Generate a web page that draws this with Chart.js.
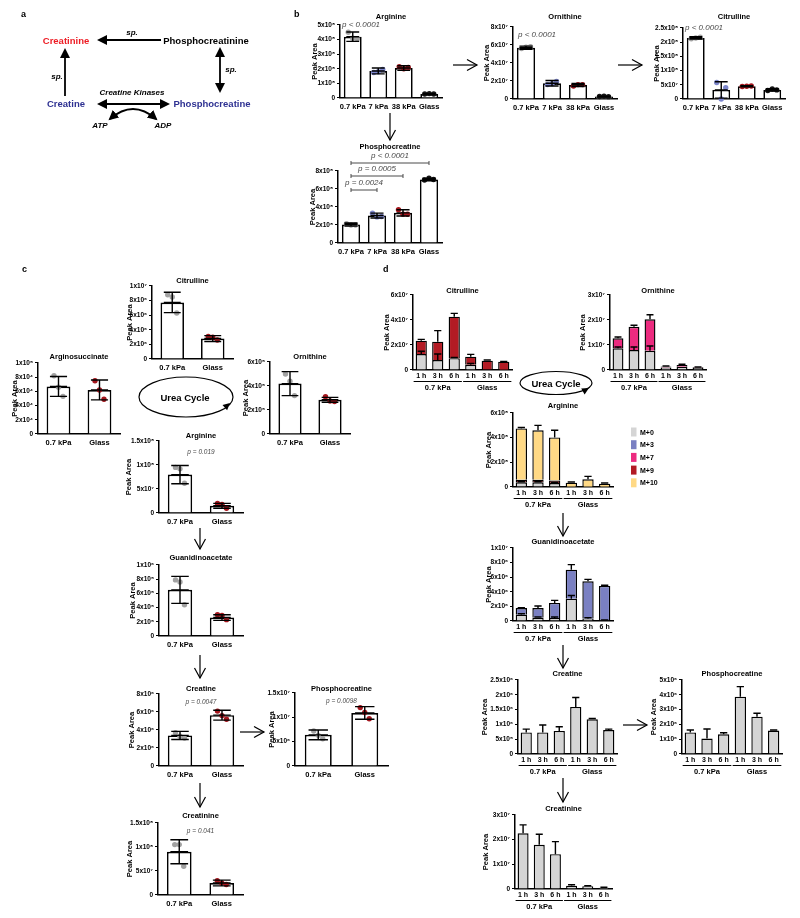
<!DOCTYPE html>
<html>
<head>
  <meta charset="UTF-8">
  <title>Arginine / creatine metabolism</title>
  <style>
    body { margin: 0; background: #fff; font-family: 'Liberation Sans', Arial, sans-serif; }
    #page { position: relative; width: 800px; height: 918px; overflow: hidden; background: #fff; }
    #page canvas { position: absolute; }
    #overlay { position: absolute; left: 0; top: 0; z-index: 2; pointer-events: none; }
  </style>
</head>
<body>
<div id="page">
  <svg id="overlay" width="800" height="918" viewBox="0 0 800 918">
    <defs>
      <marker id="open" markerUnits="userSpaceOnUse" markerWidth="14" markerHeight="14" refX="11" refY="7" orient="auto-start-reverse">
        <path d="M1,1.5 L11,7 L1,12.5" fill="none" stroke="#000" stroke-width="1.2"/>
      </marker>
      <marker id="solid" markerUnits="userSpaceOnUse" markerWidth="12" markerHeight="12" refX="8" refY="5" orient="auto-start-reverse">
        <path d="M0,0 L10,5 L0,10 z" fill="#000"/>
      </marker>
    </defs>
    <g font-family="Liberation Sans, Arial, sans-serif" font-weight="bold" fill="#000">
      <!-- panel letters -->
      <text x="21" y="17" font-size="9">a</text>
      <text x="294" y="16.5" font-size="9">b</text>
      <text x="22" y="271.5" font-size="9">c</text>
      <text x="383" y="271.5" font-size="9">d</text>

      <!-- panel a scheme -->
      <text x="66" y="43.5" font-size="9.5" text-anchor="middle" fill="#ED1C24">Creatinine</text>
      <text x="206" y="43.5" font-size="9.5" text-anchor="middle">Phosphocreatinine</text>
      <text x="132" y="35" font-size="8" font-style="italic" text-anchor="middle">sp.</text>
      <line x1="161" y1="40" x2="99" y2="40" stroke="#000" stroke-width="1.8" marker-end="url(#solid)"/>
      <text x="66" y="106.5" font-size="9.5" text-anchor="middle" fill="#2E3192">Creatine</text>
      <line x1="65" y1="96" x2="65" y2="50" stroke="#000" stroke-width="1.8" marker-end="url(#solid)"/>
      <text x="57" y="79" font-size="8" font-style="italic" text-anchor="middle">sp.</text>
      <text x="212" y="106.5" font-size="9.5" text-anchor="middle" fill="#2E3192">Phosphocreatine</text>
      <line x1="220" y1="49" x2="220" y2="91" stroke="#000" stroke-width="1.8" marker-start="url(#solid)" marker-end="url(#solid)"/>
      <text x="231" y="72" font-size="8" font-style="italic" text-anchor="middle">sp.</text>
      <text x="132" y="95" font-size="8" font-style="italic" text-anchor="middle">Creatine Kinases</text>
      <line x1="99" y1="104" x2="168" y2="104" stroke="#000" stroke-width="1.8" marker-start="url(#solid)" marker-end="url(#solid)"/>
      <path d="M110,119 Q133,99 156,119" fill="none" stroke="#000" stroke-width="2" marker-start="url(#solid)" marker-end="url(#solid)"/>
      <text x="100" y="128" font-size="8" font-style="italic" text-anchor="middle">ATP</text>
      <text x="163" y="128" font-size="8" font-style="italic" text-anchor="middle">ADP</text>

      <!-- pathway arrows -->
      <g stroke="#000" stroke-width="1.2" fill="none">
        <line x1="453" y1="65" x2="477" y2="65" marker-end="url(#open)"/>
        <line x1="618" y1="65" x2="642" y2="65" marker-end="url(#open)"/>
        <line x1="390" y1="113" x2="390" y2="140" marker-end="url(#open)"/>
        <line x1="200" y1="528" x2="200" y2="549" marker-end="url(#open)"/>
        <line x1="200" y1="655" x2="200" y2="678" marker-end="url(#open)"/>
        <line x1="240" y1="732" x2="264" y2="732" marker-end="url(#open)"/>
        <line x1="200" y1="783" x2="200" y2="807" marker-end="url(#open)"/>
        <line x1="563" y1="513" x2="563" y2="536" marker-end="url(#open)"/>
        <line x1="563" y1="645" x2="563" y2="668" marker-end="url(#open)"/>
        <line x1="563" y1="778" x2="563" y2="802" marker-end="url(#open)"/>
        <line x1="623" y1="725" x2="647" y2="725" marker-end="url(#open)"/>
        <ellipse cx="186" cy="397" rx="47" ry="20"/>
        <ellipse cx="556" cy="383" rx="36" ry="11.5"/>
      </g>
      <polygon points="230,403 227.1,410.3 222.5,405.1" fill="#000"/>
      <polygon points="589,388 584.6,394.4 581.2,388.4" fill="#000"/>
      <text x="185" y="400.5" font-size="9.5" text-anchor="middle">Urea Cycle</text>
      <text x="556" y="386.5" font-size="9.5" text-anchor="middle">Urea Cycle</text>
      <g id="legend"></g>
    </g>
  </svg>
</div>

<script src="https://cdn.jsdelivr.net/npm/chart.js"></script>
<script>
// ---------------- panel b ----------------
const bLabels = ['0.7 kPa', '7 kPa', '38 kPa', 'Glass'];
const bDotColors = ['#a2a2a2', '#7c86cc', '#a5161d', '#151515'];

const bArgTicks = [0, 1e8, 2e8, 3e8, 4e8, 5e8];
const bArgTickLabels = ['0', '1x10⁸', '2x10⁸', '3x10⁸', '4x10⁸', '5x10⁸'];
const bArgMean = [4.2e8, 1.85e8, 2.05e8, 0.27e8];
const bArgSd = [0.32e8, 0.2e8, 0.16e8, 0.03e8];
const bArgPts = [[4.5e8, 4.1e8, 4.05e8], [1.75e8, 1.8e8, 1.95e8], [2.15e8, 2.0e8, 2.1e8], [0.27e8, 0.3e8, 0.27e8]];

const bOrnTicks = [0, 2e7, 4e7, 6e7, 8e7];
const bOrnTickLabels = ['0', '2x10⁷', '4x10⁷', '6x10⁷', '8x10⁷'];
const bOrnMean = [5.7e7, 1.75e7, 1.55e7, 0.28e7];
const bOrnSd = [0.17e7, 0.3e7, 0.18e7, 0.04e7];
const bOrnPts = [[5.6e7, 5.75e7, 5.8e7], [1.6e7, 1.7e7, 1.95e7], [1.45e7, 1.6e7, 1.6e7], [0.28e7, 0.3e7, 0.26e7]];

const bCitTicks = [0, 5e7, 1e8, 1.5e8, 2e8, 2.5e8];
const bCitTickLabels = ['0', '5x10⁷', '1x10⁸', '1.5x10⁸', '2x10⁸', '2.5x10⁸'];
const bCitMean = [2.15e8, 0.32e8, 0.45e8, 0.32e8];
const bCitSd = [0.04e8, 0.29e8, 0.02e8, 0.04e8];
const bCitPts = [[2.12e8, 2.15e8, 2.18e8], [0.58e8, 0, 0.4e8], [0.44e8, 0.45e8, 0.46e8], [0.3e8, 0.35e8, 0.32e8]];

const bPcrTicks = [0, 2e8, 4e8, 6e8, 8e8];
const bPcrTickLabels = ['0', '2x10⁸', '4x10⁸', '6x10⁸', '8x10⁸'];
const bPcrMean = [2.05e8, 3.05e8, 3.35e8, 7.05e8];
const bPcrSd = [0.18e8, 0.27e8, 0.35e8, 0.14e8];
const bPcrPts = [[2.15e8, 2.0e8, 2.0e8], [3.3e8, 2.9e8, 2.95e8], [3.7e8, 3.2e8, 3.2e8], [7.0e8, 7.2e8, 7.05e8]];
const bPcrPvals = ['p < 0.0001', 'p = 0.0005', 'p = 0.0024'];

// ---------------- panel c ----------------
const cLabels = ['0.7 kPa', 'Glass'];
const cDotColors = ['#a2a2a2', '#a5161d'];

const cCitTicks = [0, 2e6, 4e6, 6e6, 8e6, 1e7];
const cCitTickLabels = ['0', '2x10⁶', '4x10⁶', '6x10⁶', '8x10⁶', '1x10⁷'];
const cCitMean = [7.75e6, 2.8e6];
const cCitSd = [1.4e6, 0.4e6];
const cCitPts = [[8.8e6, 8.5e6, 6.3e6], [3.1e6, 3.0e6, 2.6e6]];

const cAsaTicks = [0, 2e4, 4e4, 6e4, 8e4, 1e5];
const cAsaTickLabels = ['0', '2x10⁴', '4x10⁴', '6x10⁴', '8x10⁴', '1x10⁵'];
const cAsaMean = [6.7e4, 6.2e4];
const cAsaSd = [1.4e4, 1.4e4];
const cAsaPts = [[8.2e4, 6.6e4, 5.3e4], [7.5e4, 6.2e4, 4.9e4]];

const cOrnTicks = [0, 2e5, 4e5, 6e5];
const cOrnTickLabels = ['0', '2x10⁵', '4x10⁵', '6x10⁵'];
const cOrnMean = [4.2e5, 2.85e5];
const cOrnSd = [1.0e5, 0.2e5];
const cOrnPts = [[5.0e5, 4.4e5, 3.2e5], [3.1e5, 2.75e5, 2.7e5]];

const cArgTicks = [0, 5e7, 1e8, 1.5e8];
const cArgTickLabels = ['0', '5x10⁷', '1x10⁸', '1.5x10⁸'];
const cArgMean = [0.8e8, 0.15e8];
const cArgSd = [0.19e8, 0.05e8];
const cArgPts = [[0.95e8, 0.92e8, 0.62e8], [0.2e8, 0.18e8, 0.1e8]];

const cGaaTicks = [0, 2e5, 4e5, 6e5, 8e5, 1e6];
const cGaaTickLabels = ['0', '2x10⁵', '4x10⁵', '6x10⁵', '8x10⁵', '1x10⁶'];
const cGaaMean = [6.5e5, 2.6e5];
const cGaaSd = [1.9e5, 0.4e5];
const cGaaPts = [[7.9e5, 7.6e5, 4.4e5], [3.0e5, 2.9e5, 2.3e5]];

const cCrTicks = [0, 2e6, 4e6, 6e6, 8e6];
const cCrTickLabels = ['0', '2x10⁶', '4x10⁶', '6x10⁶', '8x10⁶'];
const cCrMean = [3.4e6, 5.65e6];
const cCrSd = [0.45e6, 0.55e6];
const cCrPts = [[3.7e6, 3.3e6, 3.1e6], [6.1e6, 5.6e6, 5.2e6]];

const cPcrTicks = [0, 5e6, 1e7, 1.5e7];
const cPcrTickLabels = ['0', '5x10⁶', '1x10⁷', '1.5x10⁷'];
const cPcrMean = [6.4e6, 1.09e7];
const cPcrSd = [1.0e6, 1.3e6];
const cPcrPts = [[7.2e6, 6.3e6, 5.6e6], [1.2e7, 1.1e7, 0.97e7]];

const cCrnTicks = [0, 5e7, 1e8, 1.5e8];
const cCrnTickLabels = ['0', '5x10⁷', '1x10⁸', '1.5x10⁸'];
const cCrnMean = [0.9e8, 0.25e8];
const cCrnSd = [0.25e8, 0.06e8];
const cCrnPts = [[1.05e8, 1.05e8, 0.6e8], [0.3e8, 0.25e8, 0.22e8]];

// ---------------- panel d ----------------
const dLabels = ['1 h', '3 h', '6 h', '1 h', '3 h', '6 h'];
const dGroups = ['0.7 kPa', 'Glass'];
const isoNames = ['M+0', 'M+3', 'M+7', 'M+9', 'M+10'];
const isoColors = ['#d5d5d5', '#7a80c2', '#ec2b7f', '#b31b24', '#ffd985'];

const dCitTicks = [0, 2e7, 4e7, 6e7];
const dCitTickLabels = ['0', '2x10⁷', '4x10⁷', '6x10⁷'];
const dCitM0 = [1.28e7, 0.8e7, 0.95e7, 0.42e7, 0.05e7, 0.03e7];
const dCitM9 = [1.07e7, 1.47e7, 3.32e7, 0.65e7, 0.7e7, 0.64e7];
const dCitM0Err = [0.22e7, 0.48e7, 0.05e7, 0.1e7, 0, 0];
const dCitTotErr = [0.1e7, 0.88e7, 0.26e7, 0.18e7, 0.05e7, 0.02e7];

const dOrnTicks = [0, 1e7, 2e7, 3e7];
const dOrnTickLabels = ['0', '1x10⁷', '2x10⁷', '3x10⁷'];
const dOrnM0 = [0.87e7, 0.8e7, 0.77e7, 0.1e7, 0.13e7, 0.08e7];
const dOrnM7 = [0.4e7, 0.93e7, 1.26e7, 0.04e7, 0.07e7, 0.03e7];
const dOrnM0Err = [0.05e7, 0.12e7, 0.19e7, 0, 0, 0];
const dOrnTotErr = [0.05e7, 0.06e7, 0.18e7, 0.02e7, 0.03e7, 0.01e7];

const dArgTicks = [0, 2e8, 4e8, 6e8];
const dArgTickLabels = ['0', '2x10⁸', '4x10⁸', '6x10⁸'];
const dArgM0 = [0.38e8, 0.38e8, 0.32e8, 0.03e8, 0.03e8, 0.02e8];
const dArgM9 = [0.2e8, 0.2e8, 0.2e8, 0, 0, 0];
const dArgM10 = [4.17e8, 4.02e8, 3.5e8, 0.32e8, 0.59e8, 0.25e8];
const dArgM0Err = [0.04e8, 0.04e8, 0.04e8, 0, 0, 0];
const dArgTotErr = [0.08e8, 0.4e8, 0.58e8, 0.05e8, 0.24e8, 0.05e8];

const dGaaTicks = [0, 2e6, 4e6, 6e6, 8e6, 1e7];
const dGaaTickLabels = ['0', '2x10⁶', '4x10⁶', '6x10⁶', '8x10⁶', '1x10⁷'];
const dGaaM0 = [0.87e6, 0.46e6, 0.41e6, 3.06e6, 0.32e6, 0.1e6];
const dGaaM3 = [0.91e6, 1.32e6, 2.06e6, 3.97e6, 5.11e6, 4.7e6];
const dGaaM0Err = [0.13e6, 0.09e6, 0.14e6, 0.44e6, 0.13e6, 0.03e6];
const dGaaTotErr = [0.05e6, 0.27e6, 0.36e6, 0.69e6, 0.27e6, 0.09e6];

const dCrTicks = [0, 5e5, 1e6, 1.5e6, 2e6, 2.5e6];
const dCrTickLabels = ['0', '5x10⁵', '1x10⁶', '1.5x10⁶', '2x10⁶', '2.5x10⁶'];
const dCrM0 = [0.73e6, 0.73e6, 0.78e6, 1.59e6, 1.17e6, 0.81e6];
const dCrErr = [0.11e6, 0.25e6, 0.14e6, 0.32e6, 0.03e6, 0.03e6];

const dPcrTicks = [0, 1e6, 2e6, 3e6, 4e6, 5e6];
const dPcrTickLabels = ['0', '1x10⁶', '2x10⁶', '3x10⁶', '4x10⁶', '5x10⁶'];
const dPcrM0 = [1.46e6, 1.04e6, 1.33e6, 3.87e6, 2.52e6, 1.58e6];
const dPcrErr = [0.16e6, 0.65e6, 0.11e6, 0.68e6, 0.23e6, 0.04e6];

const dCrnTicks = [0, 1e7, 2e7, 3e7];
const dCrnTickLabels = ['0', '1x10⁷', '2x10⁷', '3x10⁷'];
const dCrnM0 = [2.26e7, 1.79e7, 1.41e7, 0.13e7, 0.11e7, 0.05e7];
const dCrnErr = [0.34e7, 0.43e7, 0.51e7, 0.04e7, 0.02e7, 0.02e7];

// ---------------- drawing helpers ----------------
const FONT = "'Liberation Sans', Arial, sans-serif";
const page = document.getElementById('page');

function makeCanvas(box, hx) {
  const left = Math.round(box.peakX - 5);
  const top = Math.round(box.titleY - 6);
  const c = document.createElement('canvas');
  c.width = box.endX + 4 - left;
  c.height = box.zeroY + hx - top;
  c.style.left = left + 'px';
  c.style.top = top + 'px';
  page.appendChild(c);
  return { c, left, top };
}

function baseOptions(box, geo, d, hx, xFont, xPad) {
  const tt = box.topY - geo.top;
  const pt = Math.max(0, box.titleY - 3.75 - geo.top);
  const pb = Math.max(0, tt - 7.5 - pt);
  return {
    responsive: false, animation: false, devicePixelRatio: 1, events: [],
    layout: { padding: { left: 0, right: 4, top: 0, bottom: 0 } },
    plugins: {
      legend: { display: false },
      tooltip: { enabled: false },
      title: {
        display: true, text: d.title, fullSize: false, color: '#000',
        font: { family: FONT, size: 7.5, weight: 'bold', lineHeight: 1 },
        padding: { top: pt, bottom: pb }
      }
    },
    scales: {
      x: {
        grid: { display: false, drawTicks: false },
        border: { color: '#000', width: 1.5 },
        ticks: { color: '#000', font: { family: FONT, size: xFont, weight: 'bold' }, padding: xPad,
                 maxRotation: 0, minRotation: 0, autoSkip: false },
        afterFit: s => { s.height = hx; }
      },
      y: {
        min: 0, max: d.ticks[d.ticks.length - 1],
        grid: { drawOnChartArea: false, drawTicks: true, tickLength: 3, color: '#000', lineWidth: 1.1 },
        border: { color: '#000', width: 1.5 },
        ticks: {
          color: '#000', font: { family: FONT, size: 6.5, weight: 'bold' }, padding: 2, autoSkip: false,
          callback: v => { const k = d.ticks.indexOf(v); return k >= 0 ? d.tickLabels[k] : ''; }
        },
        title: { display: true, text: 'Peak Area', color: '#000',
                 font: { family: FONT, size: 7.5, weight: 'bold', lineHeight: 1 }, padding: { top: 1, bottom: 0 } },
        afterBuildTicks: s => { s.ticks = d.ticks.map(v => ({ value: v })); },
        afterFit: s => { s.width = box.axisX - geo.left; }
      }
    }
  };
}

function dotMarks(d) {
  return {
    id: 'dotMarks',
    afterDatasetsDraw(chart) {
      const ctx = chart.ctx, y = chart.scales.y, area = chart.chartArea;
      const bars = chart.getDatasetMeta(0).data;
      ctx.save();
      bars.forEach((bar, i) => {
        // replicate points
        d.pts[i].forEach((v, j) => {
          ctx.beginPath();
          ctx.arc(bar.x + (j - 1) * 4.5, y.getPixelForValue(v), 2.7, 0, Math.PI * 2);
          ctx.fillStyle = d.colors[i];
          ctx.fill();
        });
        // mean +/- SD
        const cap = bar.width * 0.36;
        const yt = y.getPixelForValue(d.mean[i] + d.sd[i]);
        const yb = y.getPixelForValue(Math.max(0, d.mean[i] - d.sd[i]));
        const ym = y.getPixelForValue(d.mean[i]);
        ctx.strokeStyle = '#000';
        ctx.lineWidth = 1.4;
        ctx.beginPath();
        ctx.moveTo(bar.x, yt); ctx.lineTo(bar.x, yb);
        ctx.moveTo(bar.x - cap, yt); ctx.lineTo(bar.x + cap, yt);
        ctx.moveTo(bar.x - cap, yb); ctx.lineTo(bar.x + cap, yb);
        ctx.moveTo(bar.x - cap, ym); ctx.lineTo(bar.x + cap, ym);
        ctx.stroke();
      });
      ctx.fillStyle = '#4a4a4a';
      ctx.textBaseline = 'middle';
      if (d.p) {
        ctx.font = 'italic ' + d.p.size + 'px ' + FONT;
        if (d.p.align === 'left') {
          ctx.textAlign = 'left';
          ctx.fillText(d.p.text, area.left + d.p.dx, area.top + d.p.dy);
        } else {
          ctx.textAlign = 'center';
          ctx.fillText(d.p.text, (area.left + area.right) / 2, area.top + d.p.dy);
        }
      }
      if (d.brackets) {
        ctx.font = 'italic 8px ' + FONT;
        ctx.textAlign = 'center';
        ctx.strokeStyle = '#4a4a4a';
        ctx.lineWidth = 1;
        d.brackets.forEach(br => {
          const x0 = bars[br.from].x, x1 = bars[br.to].x, yy = area.top + br.dy;
          ctx.beginPath();
          ctx.moveTo(x0, yy); ctx.lineTo(x1, yy);
          ctx.moveTo(x0, yy - 2); ctx.lineTo(x0, yy + 2);
          ctx.moveTo(x1, yy - 2); ctx.lineTo(x1, yy + 2);
          ctx.stroke();
          ctx.fillText(br.text, (x0 + x1) / 2, yy - 7);
        });
      }
      ctx.restore();
    }
  };
}

function dotChart(box, d) {
  const geo = makeCanvas(box, 14);
  const options = baseOptions(box, geo, d, 14, 7.5, 4);
  return new Chart(geo.c, {
    type: 'bar',
    data: {
      labels: d.labels,
      datasets: [{ data: d.mean, backgroundColor: '#fff', borderColor: '#000', borderWidth: 1.7,
                   barPercentage: d.barPct, categoryPercentage: 1 }]
    },
    options,
    plugins: [dotMarks(d)]
  });
}

function stackMarks(d) {
  return {
    id: 'stackMarks',
    afterDatasetsDraw(chart) {
      const ctx = chart.ctx, y = chart.scales.y, area = chart.chartArea;
      const bars = chart.getDatasetMeta(0).data;
      ctx.save();
      ctx.strokeStyle = '#000';
      ctx.lineWidth = 1.4;
      d.errs.forEach(e => {
        bars.forEach((bar, i) => {
          if (!e.err[i]) return;
          let cum = 0;
          for (let k = 0; k <= e.level; k++) cum += d.series[k].data[i];
          const y0 = y.getPixelForValue(cum), y1 = y.getPixelForValue(cum + e.err[i]);
          const cap = bar.width * 0.32;
          ctx.beginPath();
          ctx.moveTo(bar.x, y0); ctx.lineTo(bar.x, y1);
          ctx.moveTo(bar.x - cap, y1); ctx.lineTo(bar.x + cap, y1);
          ctx.stroke();
        });
      });
      // group underlines and labels
      const spans = [[0, 2], [3, 5]];
      ctx.lineWidth = 1;
      ctx.fillStyle = '#000';
      ctx.font = 'bold 7.5px ' + FONT;
      ctx.textAlign = 'center';
      ctx.textBaseline = 'middle';
      spans.forEach((s, g) => {
        const b0 = bars[s[0]], b1 = bars[s[1]];
        const x0 = b0.x - b0.width / 2 - 2, x1 = b1.x + b1.width / 2 + 2;
        ctx.beginPath();
        ctx.moveTo(x0, area.bottom + 11.5); ctx.lineTo(x1, area.bottom + 11.5);
        ctx.stroke();
        ctx.fillText(dGroups[g], (x0 + x1) / 2, area.bottom + 17.5);
      });
      ctx.restore();
    }
  };
}

function stackChart(box, d) {
  const geo = makeCanvas(box, 24);
  const options = baseOptions(box, geo, d, 24, 7, 1.5);
  options.scales.x.stacked = true;
  options.scales.y.stacked = true;
  return new Chart(geo.c, {
    type: 'bar',
    data: {
      labels: dLabels,
      datasets: d.series.map(s => ({
        label: isoNames[s.iso], data: s.data, backgroundColor: isoColors[s.iso],
        borderColor: '#000', borderWidth: 1.4, barPercentage: 0.68, categoryPercentage: 1
      }))
    },
    options,
    plugins: [stackMarks(d)]
  });
}

// ---------------- panel b charts ----------------
dotChart({ axisX: 340, topY: 25, zeroY: 98, endX: 442, peakX: 315, titleY: 17 },
  { title: 'Arginine', labels: bLabels, mean: bArgMean, sd: bArgSd, pts: bArgPts, colors: bDotColors,
    ticks: bArgTicks, tickLabels: bArgTickLabels, barPct: 0.7,
    p: { text: 'p < 0.0001', align: 'left', dx: 2, dy: 0, size: 8 } });

dotChart({ axisX: 513, topY: 27, zeroY: 99, endX: 617, peakX: 487, titleY: 17 },
  { title: 'Ornithine', labels: bLabels, mean: bOrnMean, sd: bOrnSd, pts: bOrnPts, colors: bDotColors,
    ticks: bOrnTicks, tickLabels: bOrnTickLabels, barPct: 0.7,
    p: { text: 'p < 0.0001', align: 'left', dx: 5, dy: 8, size: 8 } });

dotChart({ axisX: 683, topY: 28, zeroY: 99, endX: 785, peakX: 657, titleY: 17 },
  { title: 'Citrulline', labels: bLabels, mean: bCitMean, sd: bCitSd, pts: bCitPts, colors: bDotColors,
    ticks: bCitTicks, tickLabels: bCitTickLabels, barPct: 0.7,
    p: { text: 'p < 0.0001', align: 'left', dx: 2, dy: 0, size: 8 } });

dotChart({ axisX: 338, topY: 171, zeroY: 243, endX: 442, peakX: 313, titleY: 147 },
  { title: 'Phosphocreatine', labels: bLabels, mean: bPcrMean, sd: bPcrSd, pts: bPcrPts, colors: bDotColors,
    ticks: bPcrTicks, tickLabels: bPcrTickLabels, barPct: 0.7,
    brackets: [
      { from: 0, to: 3, text: bPcrPvals[0], dy: -8 },
      { from: 0, to: 2, text: bPcrPvals[1], dy: 5 },
      { from: 0, to: 1, text: bPcrPvals[2], dy: 19 }
    ] });

// ---------------- panel c charts ----------------
dotChart({ axisX: 152, topY: 286, zeroY: 359, endX: 233, peakX: 130, titleY: 281 },
  { title: 'Citrulline', labels: cLabels, mean: cCitMean, sd: cCitSd, pts: cCitPts, colors: cDotColors,
    ticks: cCitTicks, tickLabels: cCitTickLabels, barPct: 0.58 });

dotChart({ axisX: 38, topY: 363, zeroY: 434, endX: 120, peakX: 15, titleY: 357 },
  { title: 'Arginosuccinate', labels: cLabels, mean: cAsaMean, sd: cAsaSd, pts: cAsaPts, colors: cDotColors,
    ticks: cAsaTicks, tickLabels: cAsaTickLabels, barPct: 0.58 });

dotChart({ axisX: 270, topY: 362, zeroY: 434, endX: 350, peakX: 246, titleY: 357 },
  { title: 'Ornithine', labels: cLabels, mean: cOrnMean, sd: cOrnSd, pts: cOrnPts, colors: cDotColors,
    ticks: cOrnTicks, tickLabels: cOrnTickLabels, barPct: 0.58 });

dotChart({ axisX: 159, topY: 441, zeroY: 513, endX: 243, peakX: 129, titleY: 436 },
  { title: 'Arginine', labels: cLabels, mean: cArgMean, sd: cArgSd, pts: cArgPts, colors: cDotColors,
    ticks: cArgTicks, tickLabels: cArgTickLabels, barPct: 0.58,
    p: { text: 'p = 0.019', align: 'center', dy: 11, size: 6.5 } });

dotChart({ axisX: 159, topY: 565, zeroY: 636, endX: 243, peakX: 133, titleY: 558 },
  { title: 'Guanidinoacetate', labels: cLabels, mean: cGaaMean, sd: cGaaSd, pts: cGaaPts, colors: cDotColors,
    ticks: cGaaTicks, tickLabels: cGaaTickLabels, barPct: 0.58 });

dotChart({ axisX: 159, topY: 694, zeroY: 766, endX: 243, peakX: 132, titleY: 689 },
  { title: 'Creatine', labels: cLabels, mean: cCrMean, sd: cCrSd, pts: cCrPts, colors: cDotColors,
    ticks: cCrTicks, tickLabels: cCrTickLabels, barPct: 0.58,
    p: { text: 'p = 0.0047', align: 'center', dy: 8, size: 6.5 } });

dotChart({ axisX: 295, topY: 693, zeroY: 766, endX: 388, peakX: 272, titleY: 689 },
  { title: 'Phosphocreatine', labels: cLabels, mean: cPcrMean, sd: cPcrSd, pts: cPcrPts, colors: cDotColors,
    ticks: cPcrTicks, tickLabels: cPcrTickLabels, barPct: 0.58,
    p: { text: 'p = 0.0098', align: 'center', dy: 8, size: 6.5 } });

dotChart({ axisX: 158, topY: 823, zeroY: 895, endX: 243, peakX: 130, titleY: 816 },
  { title: 'Creatinine', labels: cLabels, mean: cCrnMean, sd: cCrnSd, pts: cCrnPts, colors: cDotColors,
    ticks: cCrnTicks, tickLabels: cCrnTickLabels, barPct: 0.58,
    p: { text: 'p = 0.041', align: 'center', dy: 8, size: 6.5 } });

// ---------------- panel d charts ----------------
stackChart({ axisX: 413, topY: 295, zeroY: 370, endX: 512, peakX: 387, titleY: 291 },
  { title: 'Citrulline', ticks: dCitTicks, tickLabels: dCitTickLabels,
    series: [{ iso: 0, data: dCitM0 }, { iso: 3, data: dCitM9 }],
    errs: [{ level: 0, err: dCitM0Err }, { level: 1, err: dCitTotErr }] });

stackChart({ axisX: 610, topY: 295, zeroY: 370, endX: 706, peakX: 583, titleY: 291 },
  { title: 'Ornithine', ticks: dOrnTicks, tickLabels: dOrnTickLabels,
    series: [{ iso: 0, data: dOrnM0 }, { iso: 2, data: dOrnM7 }],
    errs: [{ level: 0, err: dOrnM0Err }, { level: 1, err: dOrnTotErr }] });

stackChart({ axisX: 513, topY: 413, zeroY: 487, endX: 613, peakX: 489, titleY: 406 },
  { title: 'Arginine', ticks: dArgTicks, tickLabels: dArgTickLabels,
    series: [{ iso: 0, data: dArgM0 }, { iso: 3, data: dArgM9 }, { iso: 4, data: dArgM10 }],
    errs: [{ level: 0, err: dArgM0Err }, { level: 2, err: dArgTotErr }] });

stackChart({ axisX: 513, topY: 548, zeroY: 621, endX: 613, peakX: 489, titleY: 542 },
  { title: 'Guanidinoacetate', ticks: dGaaTicks, tickLabels: dGaaTickLabels,
    series: [{ iso: 0, data: dGaaM0 }, { iso: 1, data: dGaaM3 }],
    errs: [{ level: 0, err: dGaaM0Err }, { level: 1, err: dGaaTotErr }] });

stackChart({ axisX: 518, topY: 680, zeroY: 754, endX: 617, peakX: 485, titleY: 674 },
  { title: 'Creatine', ticks: dCrTicks, tickLabels: dCrTickLabels,
    series: [{ iso: 0, data: dCrM0 }], errs: [{ level: 0, err: dCrErr }] });

stackChart({ axisX: 682, topY: 680, zeroY: 754, endX: 782, peakX: 654, titleY: 674 },
  { title: 'Phosphocreatine', ticks: dPcrTicks, tickLabels: dPcrTickLabels,
    series: [{ iso: 0, data: dPcrM0 }], errs: [{ level: 0, err: dPcrErr }] });

stackChart({ axisX: 515, topY: 815, zeroY: 889, endX: 612, peakX: 486, titleY: 809 },
  { title: 'Creatinine', ticks: dCrnTicks, tickLabels: dCrnTickLabels,
    series: [{ iso: 0, data: dCrnM0 }], errs: [{ level: 0, err: dCrnErr }] });

// legend for the isotopologue colours (panel d)
const legend = document.getElementById('legend');
const NS = 'http://www.w3.org/2000/svg';
isoNames.forEach((name, i) => {
  const cy = 432 + i * 12.7;
  const r = document.createElementNS(NS, 'rect');
  r.setAttribute('x', 631); r.setAttribute('y', cy - 4.5);
  r.setAttribute('width', 5.5); r.setAttribute('height', 9);
  r.setAttribute('fill', isoColors[i]);
  legend.appendChild(r);
  const t = document.createElementNS(NS, 'text');
  t.setAttribute('x', 640); t.setAttribute('y', cy + 2.5);
  t.setAttribute('font-size', '7');
  t.textContent = name;
  legend.appendChild(t);
});
</script>
</body>
</html>
